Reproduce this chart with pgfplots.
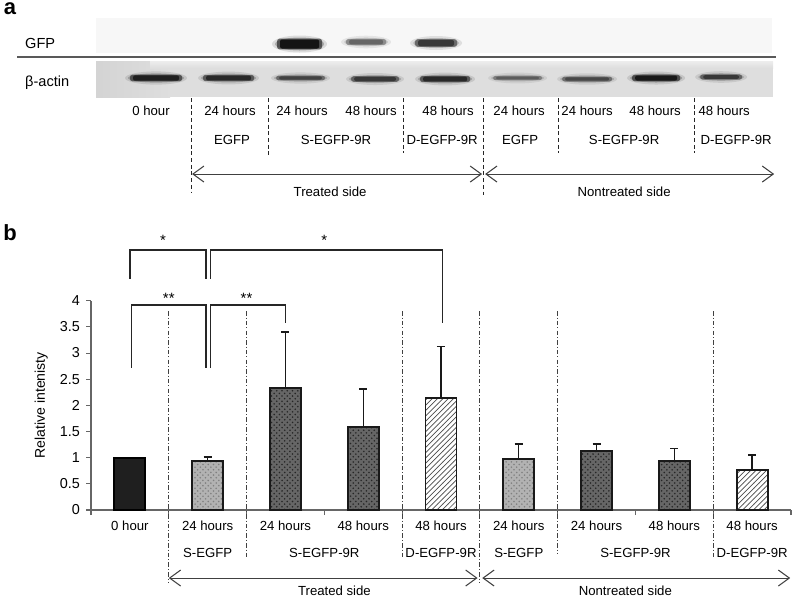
\documentclass[border=0pt]{standalone}
\usepackage{pgfplots}
\pgfplotsset{compat=1.18}
\usepackage{fontspec}
\setmainfont{Liberation Sans}
\usetikzlibrary{patterns,arrows.meta}

% blurred blot band: x1, x2, y-centre, half height, colour
\newcommand\band[5]{%
  \fill[#5, opacity=0.12] ({(#1+#2)/2},#3) ellipse [x radius={(#2-#1)/2+6}, y radius={#4+4}];
  \fill[#5, opacity=0.25] ({(#1+#2)/2},#3) ellipse [x radius={(#2-#1)/2+3}, y radius={#4+2}];
  \fill[#5, opacity=0.6, rounded corners=0.05cm] (#1-1,#3-#4-0.8) rectangle (#2+1,#3+#4+0.8);
  \fill[#5, rounded corners=0.04cm] (#1+2,#3-#4) rectangle (#2-2,#3+#4);
}

\begin{document}
\begin{tikzpicture}
\path[use as bounding box] (0,0) rectangle (16cm,-11.98cm);

% ---------------- panel a (blot) ----------------
\begin{scope}[x=0.02cm,y=-0.02cm]
\node[font=\fontsize{12.5}{14}\selectfont\bfseries] at (10,9) {a};
% strips
\fill[black!3] (96,18) rectangle (772,53);
\fill[black!13] (96,61) rectangle (773,97);
\shade[left color=black!17, right color=black!13] (96,61) rectangle (170,97);
\shade[top color=black!7, bottom color=black!13] (150,61) rectangle (773,68);
\draw[black!65, line width=0.7pt] (17,57) -- (776,57);
\node[font=\fontsize{8.3}{10}\selectfont, anchor=west] at (19,43) {GFP};
\node[font=\fontsize{8.3}{10}\selectfont, anchor=west] at (19,83) {β-actin};
% GFP bands
\band{278}{321}{44}{4.5}{black!92}
\band{347}{385}{42}{2.3}{black!60}
\band{416}{456}{43}{3}{black!78}
% beta-actin bands
\band{131}{181}{78}{2.6}{black!88}
\band{204}{253}{78}{2.4}{black!84}
\band{277}{324}{78}{1.6}{black!74}
\band{352}{398}{79}{2.0}{black!78}
\band{421}{469}{79}{2.4}{black!84}
\band{494}{541}{78}{1.4}{black!64}
\band{563}{611}{79}{1.7}{black!72}
\band{633}{679}{78}{2.5}{black!90}
\band{701}{741}{77}{1.8}{black!78}
% lane labels
\begin{scope}[every node/.style={font=\fontsize{7.5}{9}\selectfont}]
\node at (151,111) {0 hour};
\node at (230,111) {24 hours};
\node at (302,111) {24 hours};
\node at (371,111) {48 hours};
\node at (448,111) {48 hours};
\node at (519,111) {24 hours};
\node at (587,111) {24 hours};
\node at (655,111) {48 hours};
\node at (724,111) {48 hours};
\node at (232,140) {EGFP};
\node at (336,140) {S-EGFP-9R};
\node at (442,140) {D-EGFP-9R};
\node at (520,140) {EGFP};
\node at (624,140) {S-EGFP-9R};
\node at (736,140) {D-EGFP-9R};
\node at (330,192) {Treated side};
\node at (624,192) {Nontreated side};
\end{scope}
\begin{scope}[black!85, line width=0.6pt, dash pattern=on 2.2pt off 1.6pt]
\draw (191,98) -- (191,193);
\draw (268,98) -- (268,155);
\draw (403,98) -- (403,153);
\draw (483,98) -- (483,195);
\draw (558,98) -- (558,153);
\draw (694,98) -- (694,153);
\end{scope}
\draw[black!75, line width=0.6pt, {Straight Barb[length=2.2mm,width=3.2mm]}-{Straight Barb[length=2.2mm,width=3.2mm]}] (192,174) -- (482,174);
\draw[black!75, line width=0.6pt, {Straight Barb[length=2.2mm,width=3.2mm]}-{Straight Barb[length=2.2mm,width=3.2mm]}] (485,174) -- (774,174);
\node[font=\fontsize{12.5}{14}\selectfont\bfseries] at (10,233) {b};
\end{scope}

% ---------------- panel b (bar chart) ----------------
\begin{axis}[
  at={(1.82cm,-10.2cm)}, anchor=south west,
  scale only axis, width=14cm, height=4.186cm,
  xmin=-0.5, xmax=8.5, ymin=0, ymax=4,
  clip=false,
  axis x line*=bottom, axis y line*=left,
  axis line style={black!60, line width=0.6pt},
  tick align=outside,
  major tick length=0.1cm, minor tick length=0.1cm,
  ytick={0,0.5,1,1.5,2,2.5,3,3.5,4},
  xtick={0,...,8},
  xticklabels={0 hour,24 hours,24 hours,48 hours,48 hours,24 hours,24 hours,48 hours,48 hours},
  minor xtick={-0.5,0.5,...,8.5},
  major x tick style={draw=none},
  minor x tick style={draw=black!60, line width=0.6pt},
  major y tick style={draw=black!60, line width=0.6pt},
  /pgf/number format/assume math mode=true,
  yticklabel style={font=\fontsize{8.2}{10}\selectfont},
  xticklabel style={font=\fontsize{7.5}{9}\selectfont},
  ylabel={Relative intenisty},
  ylabel style={font=\fontsize{8}{10}\selectfont},
  error bars/error bar style={black!90, line width=0.8pt, solid},
  error bars/error mark options={black!90, line width=0.8pt, mark size=2.3pt, rotate=90},
]
% separators
\begin{scope}[black!75, line width=0.6pt, dash pattern=on 2.5pt off 1.2pt on 0.6pt off 1.2pt]
\draw (axis cs:0.5,3.8) -- (axis cs:0.5,-1.38);
\draw (axis cs:1.5,3.8) -- (axis cs:1.5,-0.9);
\draw (axis cs:3.5,3.8) -- (axis cs:3.5,-0.9);
\draw (axis cs:4.5,3.8) -- (axis cs:4.5,-1.38);
\draw (axis cs:5.5,3.8) -- (axis cs:5.5,-0.85);
\draw (axis cs:7.5,3.8) -- (axis cs:7.5,-0.9);
\end{scope}

\addplot[ybar, bar width=0.62cm, bar shift=0pt, fill=black!88, draw=black, line width=1.1pt]
  coordinates {(0,1.0)};
\addplot[ybar, bar width=0.62cm, bar shift=0pt, fill=black!30, draw=black!90, line width=1.1pt,
  postaction={pattern=crosshatch dots, pattern color=black!50},
  error bars/.cd, y dir=plus, y explicit]
  coordinates {(1,0.93) +- (0,0.08) (5,0.97) +- (0,0.29)};
\addplot[ybar, bar width=0.62cm, bar shift=0pt, fill=black!60, draw=black!90, line width=1.1pt,
  postaction={pattern=crosshatch dots, pattern color=black!85},
  error bars/.cd, y dir=plus, y explicit]
  coordinates {(2,2.33) +- (0,1.07) (3,1.59) +- (0,0.72) (6,1.13) +- (0,0.13) (7,0.94) +- (0,0.24)};
\addplot[ybar, bar width=0.62cm, bar shift=0pt, fill=white, draw=black!90, line width=1.1pt,
  postaction={pattern=north east lines, pattern color=black!70},
  error bars/.cd, y dir=plus, y explicit]
  coordinates {(4,2.14) +- (0,0.98) (8,0.77) +- (0,0.28)};

% significance brackets
\begin{scope}[black!85, line width=0.7pt]
\draw (axis cs:0,4.42) -- (axis cs:0,4.97) -- (axis cs:0.98,4.97) -- (axis cs:0.98,4.42);
\draw (axis cs:1.04,4.42) -- (axis cs:1.04,4.97) -- (axis cs:4.02,4.97) -- (axis cs:4.02,3.58);
\draw (axis cs:0.02,2.72) -- (axis cs:0.02,3.92) -- (axis cs:0.98,3.92) -- (axis cs:0.98,2.72);
\draw (axis cs:1.04,2.71) -- (axis cs:1.04,3.92) -- (axis cs:2.0,3.92) -- (axis cs:2.0,3.58);
\end{scope}
\begin{scope}[every node/.style={font=\fontsize{8.5}{9}\selectfont}]
\node at (axis cs:0.425,5.16) {*};
\node at (axis cs:2.5,5.16) {*};
\node at (axis cs:0.5,4.05) {**};
\node at (axis cs:1.5,4.05) {**};
\end{scope}

% group labels and arrows
\begin{scope}[every node/.style={font=\fontsize{7.5}{9}\selectfont}]
\node at (axis cs:1,-0.82) {S-EGFP};
\node at (axis cs:2.5,-0.82) {S-EGFP-9R};
\node at (axis cs:4,-0.82) {D-EGFP-9R};
\node at (axis cs:5,-0.82) {S-EGFP};
\node at (axis cs:6.5,-0.82) {S-EGFP-9R};
\node at (axis cs:8,-0.82) {D-EGFP-9R};
\node at (axis cs:2.63,-1.55) {Treated side};
\node at (axis cs:6.37,-1.55) {Nontreated side};
\end{scope}
\draw[black!75, line width=0.6pt, {Straight Barb[length=2.2mm,width=3.2mm]}-{Straight Barb[length=2.2mm,width=3.2mm]}] (axis cs:0.5,-1.30) -- (axis cs:4.47,-1.30);
\draw[black!75, line width=0.6pt, {Straight Barb[length=2.2mm,width=3.2mm]}-{Straight Barb[length=2.2mm,width=3.2mm]}] (axis cs:4.53,-1.30) -- (axis cs:8.49,-1.30);
\end{axis}
\end{tikzpicture}
\end{document}
